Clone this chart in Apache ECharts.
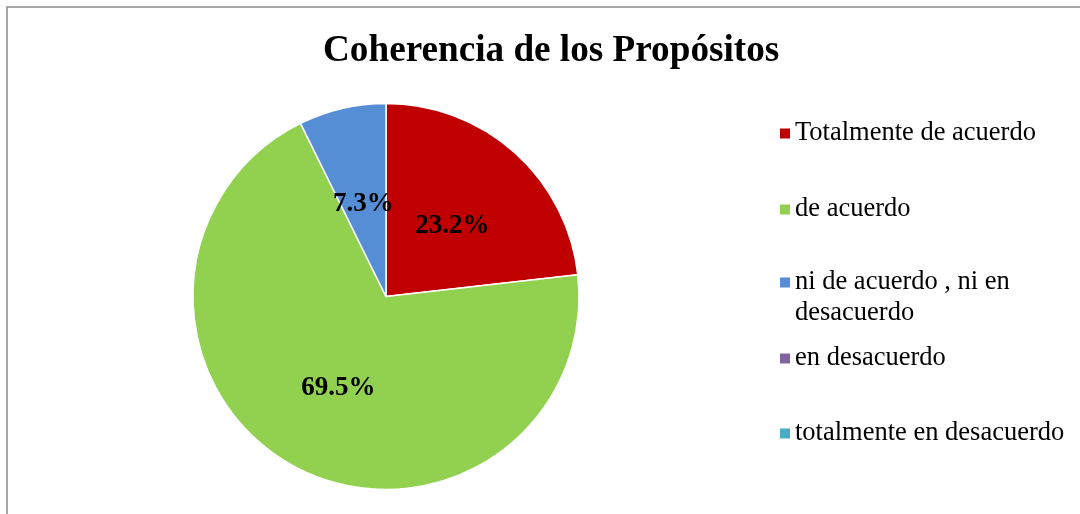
<!DOCTYPE html>
<html>
<head>
<meta charset="utf-8">
<script src="https://cdn.jsdelivr.net/npm/echarts@6/dist/echarts.min.js"></script>
<style>
  html, body { margin: 0; padding: 0; background: #fff; }
  #main { width: 1080px; height: 514px; }
</style>
</head>
<body>
<div id="main"></div>
<script>
// categorias y porcentajes
const categories = [
  'Totalmente de acuerdo',
  'de acuerdo',
  'ni de acuerdo , ni en\ndesacuerdo',
  'en desacuerdo',
  'totalmente en desacuerdo'
]
const values = [23.2, 69.5, 7.3, 0, 0]
const colors = ['#C00000', '#92D050', '#558ED5', '#8064A2', '#4BACC6']

const serif = '"Liberation Serif", "Times New Roman", serif'
const legendTops = [118, 194, 236, 343, 418]

const chart = echarts.init(document.getElementById('main'))

// una leyenda por elemento para fijar su posicion vertical
const legends = categories.map((name, i) => ({
  orient: 'vertical',
  left: 780,
  top: legendTops[i],
  padding: 0,
  itemWidth: 10,
  itemHeight: 10,
  icon: 'rect',
  selectedMode: false,
  itemStyle: { borderWidth: 0 },
  data: [name],
  // linea vacia delante para que el cuadro quede junto a la primera linea
  formatter: (n) => n.indexOf('\n') >= 0 ? '\n' + n : n,
  textStyle: {
    fontFamily: serif,
    fontSize: 26.5,
    color: '#000',
    lineHeight: 31
  }
}))

const option = {
  color: colors,
  animation: false,
  title: {
    text: 'Coherencia de los Propósitos',
    left: 318,
    top: 28,
    textStyle: {
      fontFamily: serif,
      fontSize: 37.2,
      fontWeight: 'bold',
      color: '#000'
    }
  },
  graphic: [{
    type: 'rect',
    shape: { x: 7, y: 7, width: 1100, height: 540 },
    style: { fill: 'none', stroke: '#8a8a8a', lineWidth: 1.5 },
    silent: true
  }],
  legend: legends,
  series: [
    {
      type: 'pie',
      center: [386, 296.5],
      radius: 193,
      startAngle: 90,
      clockwise: true,
      avoidLabelOverlap: false,
      itemStyle: {
        borderColor: '#fff',
        borderWidth: 1.5
      },
      label: {
        show: true,
        position: 'inner',
        fontFamily: serif,
        fontSize: 27,
        fontWeight: 'bold',
        color: '#000',
        offset: [0, 4],
        formatter: (p) => p.value.toFixed(1) + '%'
      },
      labelLine: { show: false },
      data: categories.map((name, i) => ({
        name: name,
        value: values[i],
        label: { show: values[i] > 0 },
        itemStyle: values[i] > 0 ? {} : { borderWidth: 0 }
      }))
    }
  ]
}

chart.setOption(option)
</script>
</body>
</html>
